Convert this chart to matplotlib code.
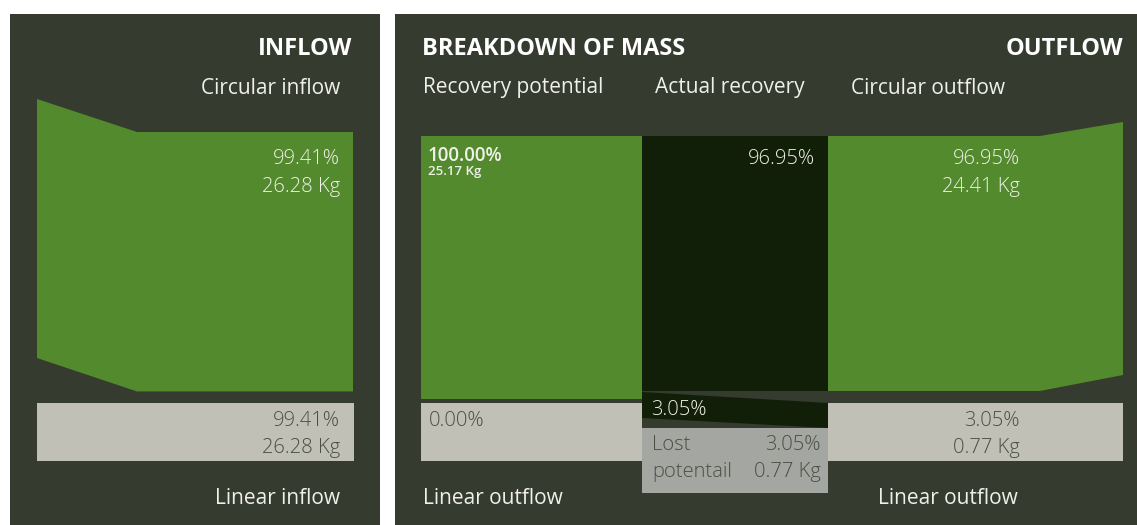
import matplotlib.pyplot as plt
from matplotlib.patches import Polygon, Rectangle

# data
circular_inflow_pct = 99.41
circular_inflow_kg = 26.28
linear_inflow_pct = 99.41
linear_inflow_kg = 26.28
recovery_potential_pct = 100.00
recovery_potential_kg = 25.17
linear_outflow_pct = 0.00
actual_recovery_pct = 96.95
lost_pct = 3.05
lost_kg = 0.77
circular_outflow_pct = 96.95
circular_outflow_kg = 24.41
linear_outflow2_pct = 3.05
linear_outflow2_kg = 0.77
column_titles = ['Recovery potential', 'Actual recovery', 'Circular outflow']

# colours
BG = '#363b2f'
GREEN = '#548a2e'
DARK = '#121f08'
LIGHT = '#c0c0b6'
LOST = '#a4a6a2'
TXT_DARK = '#4a4e44'
TXT_LIGHT = '#f0f0ea'

plt.rcParams['font.family'] = ['Open Sans', 'DejaVu Sans']

fig = plt.figure(figsize=(11.37, 5.25), dpi=100)
ax = fig.add_axes([0, 0, 1, 1])
ax.set_xlim(0, 1137)
ax.set_ylim(525, 0)
ax.axis('off')


def poly(pts, color):
    ax.add_patch(Polygon(pts, closed=True, facecolor=color, edgecolor='none'))


def rect(x, y, w, h, color):
    ax.add_patch(Rectangle((x, y), w, h, facecolor=color, edgecolor='none'))


def txt(x, y, s, ha='left', size=14.5, color=TXT_LIGHT, weight='light'):
    # +2 so the text sits like in the original
    ax.text(x, y + 2, s, ha=ha, va='center', fontsize=size, color=color, fontweight=weight)


# panels
rect(10, 14, 370, 520, BG)
rect(395, 14, 742, 520, BG)

# ---- INFLOW panel
top, h = 132, 261
h_in = h * circular_inflow_pct / 100
poly([(37, 99), (137, top), (353, top), (353, top + h_in), (137, top + h_in), (37, 358)], GREEN)
rect(37, 403, 317, 58, LIGHT)
txt(352, 47, 'INFLOW', ha='right', size=17, weight='bold', color='white')
txt(340, 86, 'Circular inflow', ha='right', size=15, weight='normal')
txt(340, 157, f'{circular_inflow_pct:.2f}%', ha='right')
txt(340, 185, f'{circular_inflow_kg:.2f} Kg', ha='right')
txt(340, 419, f'{linear_inflow_pct:.2f}%', ha='right', color=TXT_DARK)
txt(340, 446, f'{linear_inflow_kg:.2f} Kg', ha='right', color=TXT_DARK)
txt(340, 496, 'Linear inflow', ha='right', size=15, weight='normal')

# ---- BREAKDOWN panel
btop, bh = 136, 263
h_pot = bh * recovery_potential_pct / 100
h_rec = bh * actual_recovery_pct / 100
x0, x1, x2, x3 = 421, 642, 828, 1123

rect(x0, btop, x1 - x0, h_pot, GREEN)
rect(x0, 403, x1 - x0, 58, LIGHT)
rect(x1, btop, x2 - x1, h_rec, DARK)
ytop = btop + h_rec
poly([(x1, ytop + 1), (x2, ytop + 12), (x2, 428), (x1, 418)], DARK)
rect(x1, 428, x2 - x1, 65, LOST)

# circular outflow
h_out = bh * circular_outflow_pct / 100
poly([(x2, btop), (1040, btop), (x3, 122), (x3, 375), (1040, btop + h_out), (x2, btop + h_out)], GREEN)
rect(x2, 403, x3 - x2, 58, LIGHT)

txt(422, 47, 'BREAKDOWN OF MASS', size=17, weight='bold', color='white')
txt(1123, 47, 'OUTFLOW', ha='right', size=17, weight='bold', color='white')
for xx, t in zip([423, 655, 851], column_titles):
    txt(xx, 86, t, size=15, weight='normal')

txt(428, 154, f'{recovery_potential_pct:.2f}%', size=13.5, weight='semibold')
txt(428, 170, f'{recovery_potential_kg:.2f} Kg', size=9.5, weight='semibold')
txt(429, 419, f'{linear_outflow_pct:.2f}%', color=TXT_DARK)
txt(815, 157, f'{actual_recovery_pct:.2f}%', ha='right')
txt(651, 408, f'{lost_pct:.2f}%')
txt(652, 443, 'Lost', color=TXT_DARK)
txt(652, 470, 'potentail', color=TXT_DARK)
txt(821, 443, f'{lost_pct:.2f}%', ha='right', color=TXT_DARK)
txt(821, 470, f'{lost_kg:.2f} Kg', ha='right', color=TXT_DARK)
txt(1020, 157, f'{circular_outflow_pct:.2f}%', ha='right')
txt(1020, 185, f'{circular_outflow_kg:.2f} Kg', ha='right')
txt(1020, 419, f'{linear_outflow2_pct:.2f}%', ha='right', color=TXT_DARK)
txt(1020, 446, f'{linear_outflow2_kg:.2f} Kg', ha='right', color=TXT_DARK)
txt(423, 496, 'Linear outflow', size=15, weight='normal')
txt(1018, 496, 'Linear outflow', ha='right', size=15, weight='normal')

fig.savefig('out.png', dpi=100, facecolor='white')
